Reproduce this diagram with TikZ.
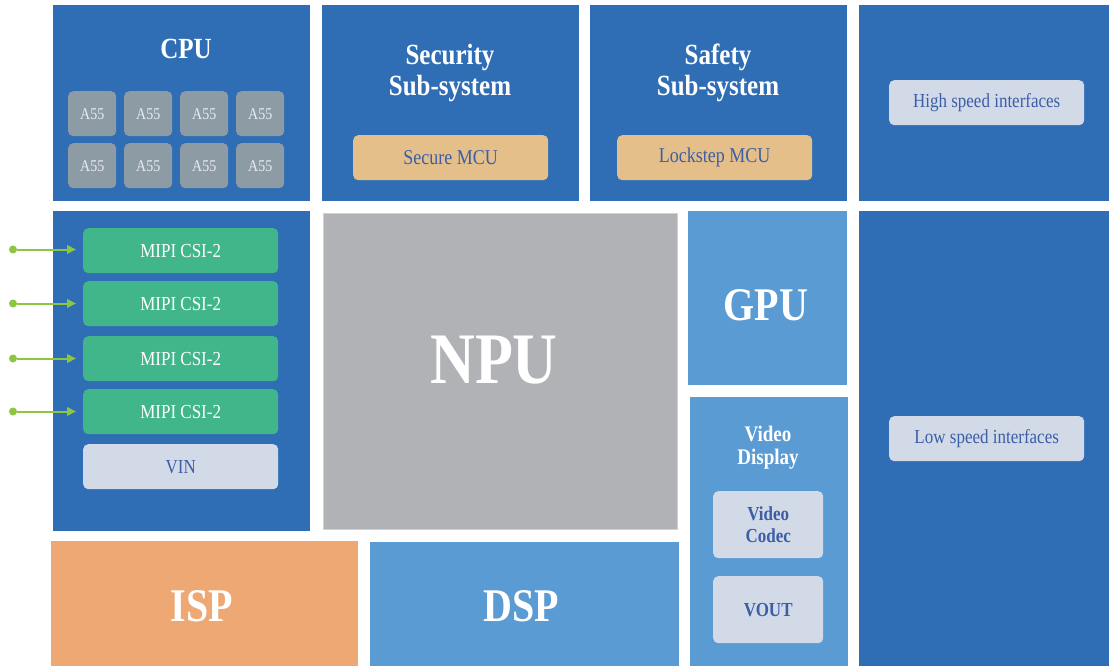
\documentclass[tikz,border=0pt]{standalone}
\usepackage{fontspec}
\setmainfont{Liberation Serif}
\usetikzlibrary{arrows.meta}
\definecolor{dblue}{HTML}{2F6EB5}
\definecolor{lblue}{HTML}{5B9BD4}
\definecolor{npugray}{HTML}{B1B2B6}
\definecolor{npuedge}{HTML}{D0D1D3}
\definecolor{coregray}{HTML}{8D9BA4}
\definecolor{coretext}{HTML}{E8ECEF}
\definecolor{mcuorange}{HTML}{E5BF89}
\definecolor{pale}{HTML}{D3DAE7}
\definecolor{btext}{HTML}{3B5EA6}
\definecolor{mipigreen}{HTML}{41B68A}
\definecolor{arrgreen}{HTML}{8DC641}
\definecolor{isporange}{HTML}{EDA873}
\newcommand{\tallt}[1]{\scalebox{1}[1.17]{#1}}
\tikzset{
  panel/.style={draw=none, inner sep=0pt, anchor=north west},
  inbox/.style={draw=none, inner sep=0pt, anchor=north west, rounded corners=5pt, align=center},
  core/.style={inbox, fill=coregray, text=coretext, minimum width=48pt, minimum height=45pt, font=\fontsize{14}{16}\selectfont},
  mcu/.style={inbox, fill=mcuorange, text=btext, minimum width=195pt, minimum height=45pt, font=\fontsize{18}{20}\selectfont},
  ifbox/.style={inbox, fill=pale, text=btext, minimum width=195pt, minimum height=45pt, font=\fontsize{17}{20}\selectfont},
  mipibox/.style={inbox, fill=mipigreen, text=white, minimum width=195pt, minimum height=45pt, font=\fontsize{17}{20}\selectfont},
  vbox/.style={inbox, fill=pale, text=btext, minimum width=110pt, minimum height=67pt, font=\fontsize{17}{21}\selectfont\bfseries},
  title/.style={anchor=base, inner sep=0pt, text=white, font=\fontsize{25}{30}\selectfont\bfseries},
  big/.style={anchor=base, inner sep=0pt, text=white, font=\fontsize{40}{48}\selectfont\bfseries},
  vtitle/.style={anchor=base, inner sep=0pt, text=white, font=\fontsize{19}{23}\selectfont\bfseries},
  dot/.style={circle, fill=arrgreen, inner sep=0pt, minimum size=8pt},
  arr/.style={draw=arrgreen, line width=2pt, -{Triangle[length=9pt,width=8.5pt]}, shorten >=7pt}
}
\begin{document}
\begin{tikzpicture}[x=1pt,y=-1pt]
\useasboundingbox[fill=white] (0,0) rectangle (1109,666);

% panels
\node[panel, fill=dblue, minimum width=257pt, minimum height=196pt] (cpu) at (53,5) {};
\node[panel, fill=dblue, minimum width=257pt, minimum height=196pt] (sec) at (322,5) {};
\node[panel, fill=dblue, minimum width=257pt, minimum height=196pt] (saf) at (590,5) {};
\node[panel, fill=dblue, minimum width=250pt, minimum height=196pt] (hs) at (859,5) {};
\node[panel, fill=dblue, minimum width=257pt, minimum height=320pt] (vin) at (53,211) {};
\node[panel, fill=npugray, draw=npuedge, line width=1.2pt, minimum width=354pt, minimum height=316pt] (npu) at (323,213) {};
\node[panel, fill=lblue, minimum width=159pt, minimum height=174pt] (gpu) at (688,211) {};
\node[panel, fill=lblue, minimum width=158pt, minimum height=269pt] (vd) at (690,397) {};
\node[panel, fill=dblue, minimum width=250pt, minimum height=455pt] (ls) at (859,211) {};
\node[panel, fill=isporange, minimum width=307pt, minimum height=125pt] (isp) at (51,541) {};
\node[panel, fill=lblue, minimum width=309pt, minimum height=124pt] (dsp) at (370,542) {};

% CPU
\node[title] (cputitle) at (186,59) {\tallt{CPU}};
\node[core] (c1) at (68,91) {\tallt{A55}};
\node[core] (c2) at (124,91) {\tallt{A55}};
\node[core] (c3) at (180,91) {\tallt{A55}};
\node[core] (c4) at (236,91) {\tallt{A55}};
\node[core] (c5) at (68,143) {\tallt{A55}};
\node[core] (c6) at (124,143) {\tallt{A55}};
\node[core] (c7) at (180,143) {\tallt{A55}};
\node[core] (c8) at (236,143) {\tallt{A55}};

% Security / Safety
\node[title] (sect1) at (450,65) {\tallt{Security}};
\node[title] (sect2) at (450,96) {\tallt{Sub-system}};
\node[mcu] (smcu) at (353,135) {\tallt{Secure MCU}};
\node[title] (saft1) at (718,65) {\tallt{Safety}};
\node[title] (saft2) at (718,96) {\tallt{Sub-system}};
\node[mcu] (lmcu) at (617,135) {\tallt{Lockstep MCU}};

% Interfaces
\node[ifbox] (hsi) at (889,80) {\tallt{High speed interfaces}};
\node[ifbox] (lsi) at (889,416) {\tallt{Low speed interfaces}};

% MIPI
\node[mipibox] (m1) at (83,228) {\tallt{MIPI CSI-2}};
\node[mipibox] (m2) at (83,281) {\tallt{MIPI CSI-2}};
\node[mipibox] (m3) at (83,336) {\tallt{MIPI CSI-2}};
\node[mipibox] (m4) at (83,389) {\tallt{MIPI CSI-2}};
\node[ifbox] (vinbox) at (83,444) {\tallt{VIN}};

\node[dot] (d1) at (13,249.5) {};
\node[dot] (d2) at (13,303.5) {};
\node[dot] (d3) at (13,358.5) {};
\node[dot] (d4) at (13,411.5) {};
\draw[arr] (d1) -- (d1 -| m1.west);
\draw[arr] (d2) -- (d2 -| m2.west);
\draw[arr] (d3) -- (d3 -| m3.west);
\draw[arr] (d4) -- (d4 -| m4.west);

% NPU, GPU
\node[anchor=base, inner sep=0pt, text=white, font=\fontsize{62}{70}\selectfont\bfseries] (nputext) at (494,383) {\tallt{NPU}};
\node[big] (gputext) at (766,320) {\tallt{GPU}};

% Video Display
\node[vtitle] (vdt1) at (768,441.5) {\tallt{Video}};
\node[vtitle] (vdt2) at (768,464.5) {\tallt{Display}};
\node[vbox] (codec) at (713,491) {\tallt{Video}\\[1pt]\tallt{Codec}};
\node[vbox] (vout) at (713,576) {\tallt{VOUT}};

% ISP, DSP
\node[big] (isptext) at (202,621) {\tallt{ISP}};
\node[big] (dsptext) at (521,621) {\tallt{DSP}};
\end{tikzpicture}
\end{document}
